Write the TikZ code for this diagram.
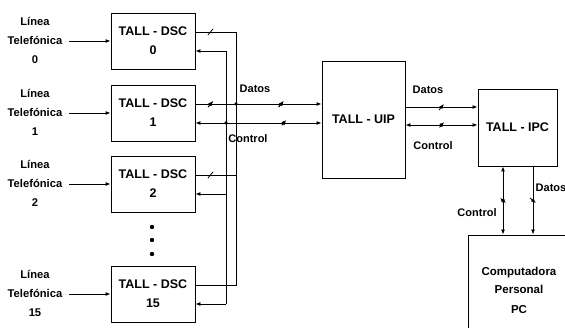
\documentclass[tikz,border=0pt]{standalone}
\usepackage{fontspec}
\setmainfont{Liberation Sans}
\usetikzlibrary{arrows.meta,positioning,decorations.markings}

\begin{document}
\begin{tikzpicture}[
    x=1pt, y=-1pt,
    line width=0.9pt,
    >={Latex[length=5pt,width=4pt]},
    dsc/.style={rectangle, draw, minimum width=84pt, minimum height=56pt, align=center, font=\fontsize{12.5}{19}\selectfont\bfseries},
    unit/.style={rectangle, draw, align=center, font=\fontsize{12.5}{19}\selectfont\bfseries},
    linelabel/.style={align=center, font=\fontsize{11.2}{19}\selectfont\bfseries},
    sig/.style={font=\fontsize{11}{12}\selectfont\bfseries, inner sep=1pt},
    slash/.style={postaction={decorate}, decoration={markings, mark=at position #1 with {\draw[line width=0.8pt] (-2.5pt,-3pt) -- (2.5pt,3pt);}}},
    junction/.style={circle, fill, inner sep=0pt, minimum size=3.5pt}
]
\clip (0,0) rectangle (565,328);
\useasboundingbox (0,0) rectangle (565,328);

% DSC boxes
\node[dsc] (dsc0) at (153,41) {TALL - DSC\\0};
\node[dsc] (dsc1) at (153,113) {TALL - DSC\\1};
\node[dsc] (dsc2) at (153,184) {TALL - DSC\\2};
\node[dsc] (dsc15) at (153,294) {TALL - DSC\\15};

% Telephone lines
\node[linelabel] (tel0) at (35,40) {Línea\\Telefónica\\0};
\node[linelabel] (tel1) at (35,112) {Línea\\Telefónica\\1};
\node[linelabel] (tel2) at (35,183) {Línea\\Telefónica\\2};
\node[linelabel] (tel15) at (35,293) {Línea\\Telefónica\\15};
\draw[->] (tel0.east) ++(3,1) coordinate (t0) -- (t0 -| dsc0.west);
\draw[->] (tel1.east) ++(3,1) coordinate (t1) -- (t1 -| dsc1.west);
\draw[->] (tel2.east) ++(3,1) coordinate (t2) -- (t2 -| dsc2.west);
\draw[->] (tel15.east) ++(3,1) coordinate (t15) -- (t15 -| dsc15.west);

% dots
\fill (152,227) circle (2.2) (152,240) circle (2.2) (152,254) circle (2.2);

% Other units
\node[unit, minimum width=83pt, minimum height=117pt] (uip) at (363.5,119.5) {TALL - UIP};
\node[unit, minimum width=79pt, minimum height=77pt] (ipc) at (517.5,127.5) {TALL - IPC};
\node[unit, minimum width=102pt, minimum height=110pt, font=\fontsize{11.5}{18}\selectfont\bfseries] (pc) at (519,290) {Computadora\\Personal\\[2pt]PC};

% Bus
\coordinate (busD) at (236,0);
\coordinate (busC) at (226,0);
\draw ([yshift=9pt]dsc0.east) coordinate (d0) -- (d0 -| busD) -- ([yshift=9pt]dsc15.east -| busD) -- ([yshift=9pt]dsc15.east);
\draw[slash=0.37] (d0) -- (d0 -| busD);
\draw[->] ([yshift=-10pt]dsc0.east -| busC) coordinate (c0) -- ([yshift=-10pt]dsc0.east);
\draw (c0) -- ([yshift=-10pt]dsc15.east -| busC);
\draw[->] ([yshift=-10pt]dsc15.east -| busC) -- ([yshift=-10pt]dsc15.east);
\draw[slash=0.37] ([yshift=9pt]dsc2.east) coordinate (d2) -- (d2 -| busD);
\draw[->] ([yshift=-10pt]dsc2.east -| busC) -- ([yshift=-10pt]dsc2.east);

% DSC - UIP
\draw[->, slash=0.12, slash=0.68] ([yshift=9pt]dsc1.east) coordinate (d1) -- (d1 -| uip.west);
\draw[<->, slash=0.7] ([yshift=-10pt]dsc1.east) coordinate (c1) -- (c1 -| uip.west);
\node[junction] (jd1) at (d1 -| busD) {};
\node[junction] (jc1) at (c1 -| busC) {};
\node[sig] (datos1) at (255,89) {Datos};
\node[sig] (control1) at (248,139) {Control};

% UIP - IPC
\draw[->, slash=0.5] (uip.east |- 0,107) coordinate (d3) -- (d3 -| ipc.west);
\draw[<->, slash=0.5] (uip.east |- 0,125) coordinate (c3) -- (c3 -| ipc.west);
\node[sig] (datos2) at (428,90) {Datos};
\node[sig] (control2) at (433,146) {Control};

% IPC - PC
\draw[<->, slash=0.5] (pc.north -| 503,0) coordinate (c4) -- (c4 |- ipc.south);
\draw[->, slash=0.5] (ipc.south -| 533,0) coordinate (d4) -- (d4 |- pc.north);
\node[sig] (control3) at (477,213) {Control};
\node[sig] (datos3) at (551,188) {Datos};

\end{tikzpicture}
\end{document}
